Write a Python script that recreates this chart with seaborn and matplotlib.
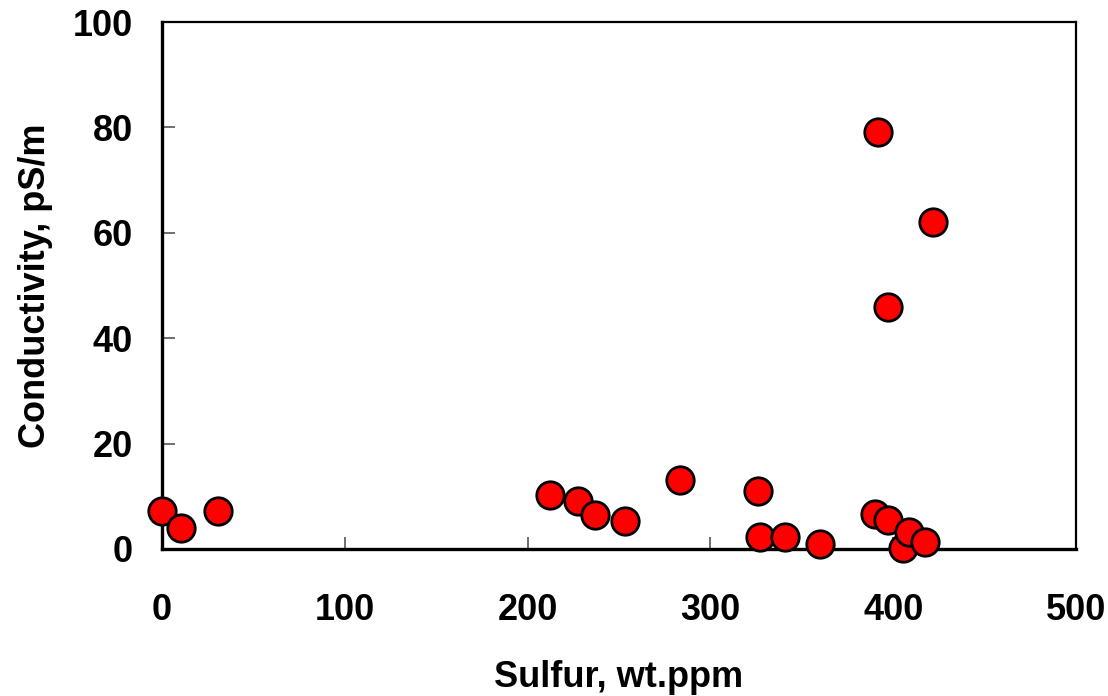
import matplotlib
matplotlib.use("Agg")
import matplotlib.pyplot as plt
import seaborn as sns
import pandas as pd

sulfur = [0, 10.2, 30.7, 212.5, 227.6, 237, 253.4, 283.6, 326, 327.4, 341, 360,
          391.5, 390, 397, 397.1, 405.2, 408.4, 417.3, 421.7]
conductivity = [7.3, 3.9, 7.3, 10.2, 9.2, 6.4, 5.4, 13.0, 11.1, 2.2, 2.2, 1.0,
                79.2, 6.7, 5.5, 46.0, 0.15, 3.2, 1.3, 62.1]
x_ticks = [0, 100, 200, 300, 400, 500]
y_ticks = [0, 20, 40, 60, 80, 100]

sns.set_theme(style="white")
plt.rcParams['font.family'] = ['Liberation Sans', 'DejaVu Sans']
plt.rcParams['text.color'] = 'black'
plt.rcParams['axes.labelcolor'] = 'black'
plt.rcParams['xtick.color'] = 'black'
plt.rcParams['ytick.color'] = 'black'

df = pd.DataFrame({"Sulfur": sulfur, "Conductivity": conductivity})

fig = plt.figure(figsize=(11.08, 6.96), dpi=100)
ax = fig.add_axes([162/1108, 1-549/696, (1076-162)/1108, (549-22)/696])

sns.scatterplot(data=df, x="Sulfur", y="Conductivity", ax=ax, s=390,
                color="#FF0000", edgecolor="black", linewidth=2.0,
                clip_on=False, zorder=5, legend=False)

fs = 26
ax.set_xlim(0, 500)
ax.set_ylim(0, 100)
ax.set_xticks(x_ticks)
ax.set_yticks(y_ticks)
ax.set_xticklabels([str(v) for v in x_ticks], fontsize=fs, fontweight="bold")
ax.set_yticklabels([str(v) for v in y_ticks], fontsize=fs, fontweight="bold")
ax.tick_params(axis="x", direction="in", length=9, width=1.2, color="#555555",
               labelcolor="black", pad=32, bottom=True)
ax.tick_params(axis="y", direction="in", length=9, width=1.2, color="#555555",
               labelcolor="black", pad=21, left=True)
ax.set_xlabel("Sulfur, wt.ppm", fontsize=fs, fontweight="bold", labelpad=23)
ax.set_ylabel("Conductivity, pS/m", fontsize=fs, fontweight="bold", labelpad=14)

for side in ["left", "bottom"]:
    ax.spines[side].set_linewidth(2.4)
    ax.spines[side].set_color("black")
for side in ["top", "right"]:
    ax.spines[side].set_linewidth(1.6)
    ax.spines[side].set_color("black")
ax.grid(False)

fig.savefig("out.png", dpi=100)
